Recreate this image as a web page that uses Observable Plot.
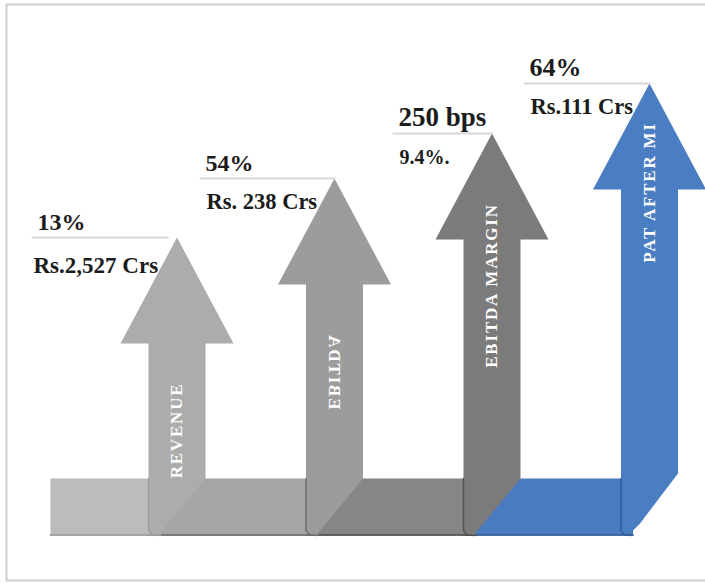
<!DOCTYPE html>
<html><head><meta charset="utf-8">
<script src="https://cdn.jsdelivr.net/npm/d3@7"></script>
<script src="https://cdn.jsdelivr.net/npm/@observablehq/plot@0.6"></script>
<style>body{margin:0;background:#fff}</style>
</head><body><div id="chart"></div>
<script>
// ---- data ----
const categories = ["REVENUE", "EBITDA", "EBITDA MARGIN", "PAT AFTER MI"];
const growthLabels = ["13%", "54%", "250 bps", "64%"];
const valueLabels = ["Rs.2,527 Crs", "Rs. 238 Crs", "9.4%.", "Rs.111 Crs"];
const arrowHeights = [298, 357, 402, 452]; // tip height above baseline (chart units)
const arrowColors = ["#acacac", "#9c9c9c", "#7b7b7b", "#4a7dc1"];
const bandColors = ["#bcbcbc", "#a6a6a6", "#868686", "#4a7bbf"];
const edgeColors = ["#9a9a9a", "#6a6a6a", "#4f4f4f", "#2f5b95"];

// ---- layout (not data) ----
const SHAFT = 57, HEAD_W = 113, HEAD_H = 106, BAND = 57, STEP = 157.5, X0 = 148, BAND_START = 50;
const labelLeft = [32, 200, 393, 524];
const labelCenter = [105, 164, 250, 343];
const growthSize = [24, 24, 27, 26];
const valueSize = [23, 22.5, 20, 22.5];
const FONT = "'Liberation Serif', 'Times New Roman', serif";

const x0 = i => X0 + i * STEP, x1 = i => x0(i) + SHAFT, cx = i => x0(i) + SHAFT / 2;
const pts = a => a.map(([x, y]) => ({x, y}));

function shaftPoly(i) {
  const h = arrowHeights[i], hb = h - HEAD_H, L = x0(i), R = x1(i), C = cx(i);
  const p = [[C, h], [C + HEAD_W / 2, hb], [R, hb]];
  if (i < 3) p.push([R, BAND], [L + 10, 0], [L + 3, 1], [L, 5]);
  else p.push([R, 62], [R - 38, 12], [R - 46, 4], [R - 54, 1], [L + 4, 1], [L, 4]);
  p.push([L, hb], [C - HEAD_W / 2, hb]);
  return pts(p);
}
const bandStart = i => i === 0 ? BAND_START : x0(i - 1);
const bandEnd = i => x0(i) + 12;
function bandPoly(i) {
  const s = bandStart(i), e = bandEnd(i);
  return pts([[s, 0], [s, BAND], [e, BAND], [e, 0]]);
}

const marks = [];
// frame (measured in pixels, converted to chart units)
const BASE = 535;
const v = pix => BASE - pix;
marks.push(Plot.line(pts([[6, v(580)], [6, v(4)], [705, v(4)]]), {x: "x", y: "y", stroke: "#cfcfcf", strokeWidth: 2}));
marks.push(Plot.line(pts([[6, v(580)], [705, v(580)]]), {x: "x", y: "y", stroke: "#cfcfcf", strokeWidth: 2}));

for (let i = 3; i >= 0; i--) {
  marks.push(Plot.line(bandPoly(i), {x: "x", y: "y", fill: bandColors[i], stroke: "none", curve: "linear-closed"}));
  marks.push(Plot.line(pts([[bandStart(i), 0.5], [bandEnd(i), 0.5]]), {x: "x", y: "y", stroke: edgeColors[i], strokeWidth: 2, strokeOpacity: 0.8}));
  marks.push(Plot.line(shaftPoly(i), {x: "x", y: "y", fill: arrowColors[i], stroke: "none", curve: "linear-closed"}));
  const L = x0(i);
  marks.push(Plot.line(pts([[L, BAND], [L, 5], [L + 3, 1], [L + 10, 0]]), {x: "x", y: "y", stroke: edgeColors[i], strokeWidth: 1.5, strokeOpacity: 0.9}));
}

// rotated labels inside arrows
const rot = categories.map((c, i) => ({text: c, x: cx(i), y: labelCenter[i]}));
marks.push(Plot.text(rot, {x: "x", y: "y", text: "text", rotate: -90, fill: "#ffffff", fontSize: 17, fontWeight: "bold", fontFamily: FONT, textAnchor: "middle", lineAnchor: "middle"}));

// underlines and callout labels
categories.forEach((c, i) => {
  const tip = arrowHeights[i];
  marks.push(Plot.line(pts([[labelLeft[i], tip], [cx(i) - (i === 0 ? 9 : 0), tip]]), {x: "x", y: "y", stroke: "#d8d8d8", strokeWidth: 2}));
  marks.push(Plot.text([{x: labelLeft[i] + 5, y: tip + 8, t: growthLabels[i]}], {x: "x", y: "y", text: "t", textAnchor: "start", lineAnchor: "bottom", fontSize: growthSize[i], fontWeight: "bold", fontFamily: FONT, fill: "#1c1c1c"}));
  marks.push(Plot.text([{x: labelLeft[i] + (i === 0 ? 1 : 6), y: tip - (i === 0 ? 35 : 30), t: valueLabels[i]}], {x: "x", y: "y", text: "t", textAnchor: "start", lineAnchor: "bottom", fontSize: valueSize[i], fontWeight: "bold", fontFamily: FONT, fill: "#1c1c1c"}));
});

const chart = Plot.plot({
  width: 705, height: 583, margin: 0,
  x: {domain: [0, 705], axis: null},
  y: {domain: [-48, 535], axis: null},
  style: {background: "#fff"},
  marks
});

// letter spacing for arrow labels; mirrored EBITDA
d3.select(chart).selectAll("text").each(function () {
  const t = this.textContent;
  if (categories.includes(t)) {
    this.setAttribute("letter-spacing", "1.8");
    if (t === "EBITDA") {
      const tr = this.getAttribute("transform") || "";
      this.setAttribute("transform", tr + " scale(1,-1)");
    }
  }
});
document.getElementById("chart").appendChild(chart);
</script>
</body></html>
